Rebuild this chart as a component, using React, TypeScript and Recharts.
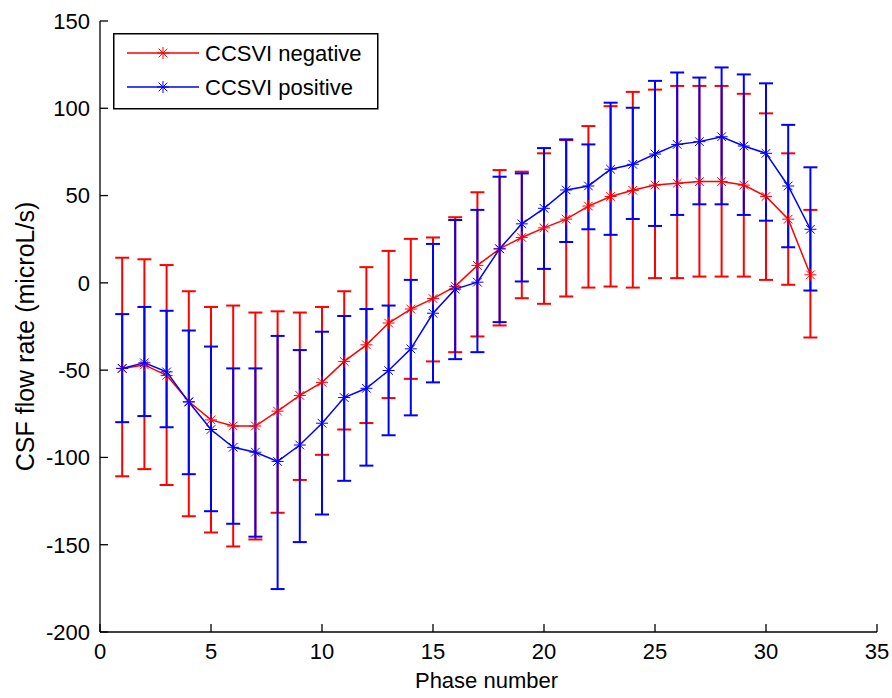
import { LineChart, Line, XAxis, YAxis, ErrorBar, Legend } from "recharts";

// phase numbers 1..32 (x axis)
const phases = [
  1, 2, 3, 4, 5, 6, 7, 8, 9, 10, 11, 12, 13, 14, 15, 16,
  17, 18, 19, 20, 21, 22, 23, 24, 25, 26, 27, 28, 29, 30, 31, 32,
];

// CCSVI negative (red): mean and error bar ends
const negMean = [
  -49, -47, -53, -68, -78.5, -82, -82, -73.5, -64.5, -57, -45, -35.5, -23, -15, -9, -2,
  10, 19.5, 26, 31.5, 36.5, 44, 49.5, 53, 56, 57, 58, 58, 56, 49.5, 36.5, 4.6,
];
const negUpper = [
  14.4, 13.5, 10.2, -4.8, -13.8, -13, -17, -16.3, -17, -13.8, -4.8, 9, 18.3, 25.2, 26, 37.6,
  51.9, 64.6, 63.7, 74.2, 81.8, 89.8, 101.2, 109.4, 110.7, 112.8, 112.8, 112.8, 108.3, 97.1, 74.2, 41.8,
];
const negLower = [
  -110.8, -106.7, -115.8, -133.7, -143, -151, -147, -131.7, -112.9, -98.5, -84, -80.3, -66, -55, -45, -39.7,
  -30.7, -24.4, -8.8, -12, -7.8, -2.7, -2.1, -2.7, 2.7, 2.7, 3.6, 3.6, 3.6, 1.7, -1.1, -31.3,
];

// CCSVI positive (blue)
const posMean = [
  -49, -45.8, -51, -68.3, -84, -94.2, -97, -102.3, -92.9, -80.4, -65.7, -60.4, -50.2, -37.8, -17.4, -3.6,
  0.4, 19.5, 33.8, 42.7, 53.2, 55.5, 65.1, 67.9, 73.8, 79.3, 80.9, 83.7, 78.4, 74.2, 55.5, 30.7,
];
const posUpper = [
  -17.9, -13.8, -16, -27.3, -36.5, -49, -49, -30.4, -38.5, -28, -19, -15, -13, 1.7, 22.3, 36,
  41.8, 60.8, 62.7, 77.2, 82.2, 79.3, 103.2, 100.3, 115.7, 120.5, 117.6, 123.4, 119.4, 114.3, 90.5, 66.2,
];
const posLower = [
  -79.8, -76.3, -82.7, -109.6, -130.8, -138, -145.4, -175.4, -148.5, -132.7, -113.4, -104.7, -87.3, -75.9, -57, -43.7,
  -39.7, -22.5, 0.8, 8, 23.4, 30.7, 27.5, 36.6, 32.6, 38.9, 45, 45, 38.9, 35.6, 20.4, -4.4,
];

const xTicks = [0, 5, 10, 15, 20, 25, 30, 35];
const yTicks = [-200, -150, -100, -50, 0, 50, 100, 150];

const NEG_COLOR = "#ff0000";
const POS_COLOR = "#0000ff";
const FONT = "'Liberation Sans', Arial, sans-serif";

const data = phases.map((phase, i) => ({
  phase,
  neg: negMean[i],
  negErr: [negMean[i] - negLower[i], negUpper[i] - negMean[i]],
  pos: posMean[i],
  posErr: [posMean[i] - posLower[i], posUpper[i] - posMean[i]],
}));

// matlab style '*' marker
function Asterisk({ cx, cy, color }: { cx: number; cy: number; color: string }) {
  const r = 6;
  const d = r * 0.72;
  return (
    <g stroke={color} strokeWidth={1}>
      <line x1={cx - r} y1={cy} x2={cx + r} y2={cy} />
      <line x1={cx} y1={cy - r} x2={cx} y2={cy + r} />
      <line x1={cx - d} y1={cy - d} x2={cx + d} y2={cy + d} />
      <line x1={cx - d} y1={cy + d} x2={cx + d} y2={cy - d} />
    </g>
  );
}

function YTick({ x, y, payload }: any) {
  return (
    <g>
      <line x1={x + 10} x2={x + 18} y1={y} y2={y} stroke="#000" strokeWidth={1.3} />
      <text x={x} y={y} dy="0.36em" textAnchor="end" fontSize={22} fontFamily={FONT} fill="#000">
        {payload.value}
      </text>
    </g>
  );
}

function XTick({ x, y, payload }: any) {
  return (
    <g>
      <line x1={x} x2={x} y1={y - 11} y2={y - 19} stroke="#000" strokeWidth={1.3} />
      <text x={x} y={y} dy="0.72em" textAnchor="middle" fontSize={22} fontFamily={FONT} fill="#000">
        {payload.value}
      </text>
    </g>
  );
}

function XLabel({ viewBox }: any) {
  const cx = viewBox.x + viewBox.width / 2 - 2;
  return (
    <text x={cx} y={viewBox.y + 56} textAnchor="middle" fontSize={22} fontFamily={FONT} fill="#000">
      Phase number
    </text>
  );
}

function YLabel({ viewBox }: any) {
  const x = viewBox.x + 25;
  const y = viewBox.y + viewBox.height / 2 + 10;
  return (
    <text
      x={x}
      y={y}
      transform={`rotate(-90 ${x} ${y})`}
      textAnchor="middle"
      dominantBaseline="central"
      fontSize={25}
      fontFamily={FONT}
      fill="#000"
    >
      CSF flow rate (microL/s)
    </text>
  );
}

function LegendBox() {
  const rows = [
    { name: "CCSVI negative", color: NEG_COLOR },
    { name: "CCSVI positive", color: POS_COLOR },
  ];
  return (
    <svg width={266} height={77} style={{ display: "block" }}>
      <rect x={0.75} y={0.75} width={264} height={75} fill="#fff" stroke="#000" strokeWidth={1.5} />
      {rows.map((r, i) => {
        const cy = 20 + i * 34;
        return (
          <g key={r.name}>
            <line x1={14} x2={86} y1={cy} y2={cy} stroke={r.color} strokeWidth={1.5} />
            <Asterisk cx={50} cy={cy} color={r.color} />
            <text x={92} y={cy + 8} fontSize={22} fontFamily={FONT} fill="#000">
              {r.name}
            </text>
          </g>
        );
      })}
    </svg>
  );
}

export default function App() {
  return (
    <div style={{ position: "absolute", left: 0, top: 0, background: "#fff" }}>
      <LineChart width={892} height={698} data={data} margin={{ top: 21, right: 15, bottom: 0, left: 0 }}>
        <XAxis
          dataKey="phase"
          type="number"
          domain={[0, 35]}
          ticks={xTicks}
          height={66}
          tickSize={0}
          tickMargin={11}
          tickLine={false}
          axisLine={{ stroke: "#000", strokeWidth: 1.3 }}
          tick={<XTick />}
          label={<XLabel />}
        />
        <YAxis
          type="number"
          domain={[-200, 150]}
          ticks={yTicks}
          width={100}
          tickSize={0}
          tickMargin={10}
          tickLine={false}
          axisLine={{ stroke: "#000", strokeWidth: 1.3 }}
          tick={<YTick />}
          label={<YLabel />}
        />
        <Legend
          layout="vertical"
          align="center"
          verticalAlign="middle"
          content={<LegendBox />}
          wrapperStyle={{ left: 113, top: 33, width: "auto" }}
        />
        <Line
          dataKey="neg"
          name="CCSVI negative"
          stroke={NEG_COLOR}
          strokeWidth={1.5}
          isAnimationActive={false}
          activeDot={false}
          dot={(p: any) => <Asterisk key={`n-${p.index}`} cx={p.cx} cy={p.cy} color={NEG_COLOR} />}
        >
          <ErrorBar dataKey="negErr" direction="y" width={7} stroke={NEG_COLOR} strokeWidth={2} isAnimationActive={false} />
        </Line>
        <Line
          dataKey="pos"
          name="CCSVI positive"
          stroke={POS_COLOR}
          strokeWidth={1.5}
          isAnimationActive={false}
          activeDot={false}
          dot={(p: any) => <Asterisk key={`p-${p.index}`} cx={p.cx} cy={p.cy} color={POS_COLOR} />}
        >
          <ErrorBar dataKey="posErr" direction="y" width={7} stroke={POS_COLOR} strokeWidth={2} isAnimationActive={false} />
        </Line>
      </LineChart>
    </div>
  );
}
